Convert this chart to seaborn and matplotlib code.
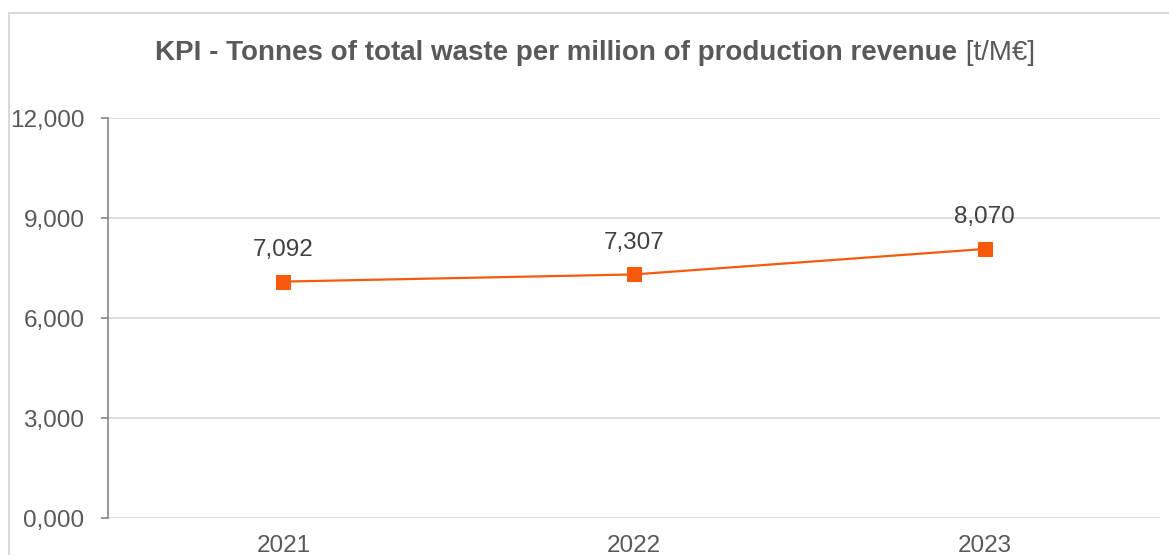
import matplotlib
matplotlib.use("Agg")
import matplotlib.pyplot as plt
import seaborn as sns
import pandas as pd
from matplotlib.patches import Rectangle

years = ["2021", "2022", "2023"]
values = [7092, 7307, 8070]
value_labels = ["7,092", "7,307", "8,070"]
y_ticks = [0, 3000, 6000, 9000, 12000]
y_tick_labels = ["0,000", "3,000", "6,000", "9,000", "12,000"]

sns.set_theme(style="white")
plt.rcParams['font.family'] = ['Liberation Sans', 'DejaVu Sans']

df = pd.DataFrame({"year": years, "value": values})

fig = plt.figure(figsize=(11.69, 5.55), dpi=100)
ax = fig.add_axes([108/1169, 1 - 518/555, (1160-108)/1169, 400/555])

line_color = "#F75A0A"
sns.lineplot(data=df, x="year", y="value", ax=ax, color=line_color, linewidth=1.6,
             marker="s", markersize=10, markeredgecolor=line_color, markerfacecolor=line_color)

ax.set_xlim(-0.5, 2.5)
ax.set_ylim(0, 12000)
ax.set_yticks(y_ticks)
ax.set_yticklabels(y_tick_labels)
ax.set_xticks(range(len(years)))
ax.set_xticklabels(years)
ax.set_xlabel("")
ax.set_ylabel("")

ax.grid(axis="y", color="#d9d9d9", linewidth=1.2)
ax.grid(axis="x", visible=False)
ax.set_axisbelow(True)
for s in ["top", "right", "bottom"]:
    ax.spines[s].set_visible(False)
ax.spines["left"].set_color("#868686")
ax.spines["left"].set_linewidth(1.2)

ax.tick_params(axis="y", which="both", left=True, length=5, width=1.2, color="#868686",
               pad=12, labelsize=17.5, labelcolor="#595959")
ax.tick_params(axis="x", which="both", bottom=False, length=0, pad=12,
               labelsize=17.5, labelcolor="#595959")

for i, (v, lab) in enumerate(zip(values, value_labels)):
    ax.annotate(lab, (i, v), xytext=(0, 15), textcoords="offset points",
                ha="center", va="bottom", fontsize=17.5, color="#404040")

# Title
ty = 1 - 53/555
t1 = fig.text(0, ty, "KPI - Tonnes of total waste per million of production revenue",
              fontsize=20, fontweight="bold", color="#595959", va="center", ha="left")
t2 = fig.text(0, ty, " [t/M€]", fontsize=20, color="#595959", va="center", ha="left")
fig.canvas.draw()
r = fig.canvas.get_renderer()
w1 = t1.get_window_extent(r).width
w2 = t2.get_window_extent(r).width
total = w1 + w2
x0 = 595 - total / 2
t1.set_position((x0 / 1169, ty))
t2.set_position(((x0 + w1) / 1169, ty))

# Border
fig.patches.append(Rectangle((9/1169, -0.01), 1.2, 1 - 13/555 + 0.01, transform=fig.transFigure,
                             fill=False, edgecolor="#d9d9d9", linewidth=1.5))

fig.savefig("out.png", dpi=100, facecolor="white")
